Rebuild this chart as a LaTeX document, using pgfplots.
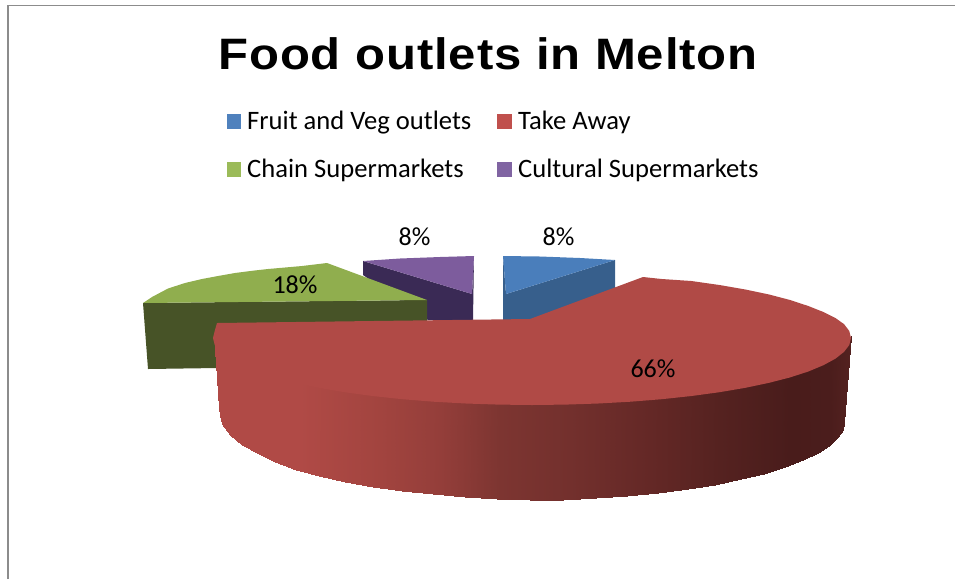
\documentclass[border=0pt]{standalone}
\usepackage{fontspec}
\setmainfont{Carlito}
\newfontfamily\titlefont[LetterSpace=2,FakeStretch=1.115]{Liberation Sans}
\usepackage{pgfplots}
\pgfplotsset{compat=1.18}
\definecolor{blueTop}{HTML}{4A7EBB}
\definecolor{blueSide}{HTML}{375F8C}
\definecolor{redTop}{HTML}{B04A46}
\definecolor{greenTop}{HTML}{90AE4E}
\definecolor{greenSide}{HTML}{475327}
\definecolor{purpleTop}{HTML}{7D5C9D}
\definecolor{purpleSide}{HTML}{3A2A55}
\definecolor{frameGrey}{HTML}{8C8C8C}
\definecolor{swBlue}{HTML}{4F81BD}
\definecolor{swRed}{HTML}{C0504D}
\definecolor{swGreen}{HTML}{9BBB59}
\definecolor{swPurple}{HTML}{8064A2}
\tikzset{
  lgd/.style={font=\fontsize{26.6}{30}\selectfont, text=black, inner sep=0pt},
  lbl/.style={font=\fontsize{26}{30}\selectfont, text=black, inner sep=0pt},
}
\begin{document}
\begin{tikzpicture}
\begin{axis}[
  scale only axis, width=955pt, height=579pt,
  xmin=0, xmax=955, ymin=0, ymax=579, y dir=reverse,
  hide axis, no markers,
  colormap={redside}{rgb255(0pt)=(176,74,70); rgb255(87pt)=(176,74,70); rgb255(167pt)=(162,68,63);
    rgb255(227pt)=(148,62,58); rgb255(287pt)=(125,53,49); rgb255(357pt)=(115,48,45); rgb255(437pt)=(100,40,38);
    rgb255(507pt)=(85,34,32); rgb255(577pt)=(73,28,27); rgb255(617pt)=(75,29,28); rgb255(638pt)=(84,34,32)},
  point meta min=213, point meta max=851,
]
% Reserve the full canvas
\path (axis cs:0,0) rectangle (axis cs:955,579);

% Chart frame
\addplot[frameGrey, line width=1.6pt] coordinates {(8,579) (8,5.5) (955,5.5)};

% Cultural Supermarkets slice
\addplot[fill=purpleSide, draw=none] coordinates {(363,261) (472,294) (474,256) (473,320) (428,320) (363,275)} --cycle;
\addplot[fill=purpleTop, draw=none] coordinates {(363,261) (400,258.5) (440,257) (474,256) (472,294)} --cycle;

% Fruit and Veg slice
\addplot[fill=blueSide, draw=none] coordinates {(503,256) (506,294) (615,260) (615,290) (530,320) (503,320)} --cycle;
\addplot[fill=blueTop, draw=none] coordinates {(503,256) (540,256.5) (580,258) (615,260) (506,294)} --cycle;

% Chain Supermarkets slice
\addplot[fill=greenSide, draw=none] coordinates {(143,303) (427,300) (427,365) (148,369)} --cycle;
\addplot[fill=greenTop, draw=none] coordinates {(143,303) (152,297) (168,288.5) (185,283) (202,279) (218,276) (235,273) (252,270.8) (268,269) (285,267.5) (302,266) (327,263) (427,300)} --cycle;

% Take Away slice: rim, its upper row tucked under the top face
\addplot[surf, shader=interp, point meta=x, mesh/rows=2, mesh/cols=31] table {
x y
851 336
849 341
844 348
833 355
821 361
806 368
788 373
767 379
743 384
717 388
690 392
660 395
629 398
597 400
564 401
532 401
499 401
467 400
435 398
404 395
374 392
346 388
320 384
296 379
275 373
257 368
242 361
230 355
222 348
216 341
214 334
843.5 423
842.5 430
838 436.6
829.6 444.7
817.8 452.5
802.8 460
784.8 467
764.1 473.5
740.8 479.4
715.2 484.7
687.5 489.3
658.1 493.1
627.3 496.1
595.5 498.2
562.9 499.6
530 500
497 499
464.5 497
432.7 494
401.9 491
372.5 487
344.8 482
319.2 476
295.9 469.5
275.2 461.5
257.2 453
242.2 445
230.4 435
222 424
219.5 415
219 408
};
% Take Away slice: top face
\addplot[fill=redTop, draw=none] coordinates {
(530,319) (643,277) (661.7,279) (691.5,281) (719.5,285) (745.4,289.5) (769.1,294.5) (790.1,300)
(808.3,306) (823.4,312) (835.4,318) (844,324.1) (849.3,331) (851,338)
(849.3,345) (844,351.9) (835.4,358.7) (823.4,365.2) (808.3,371.5) (790.1,377.4) (769.1,382.8)
(745.4,387.8) (719.5,392.2) (691.5,396) (661.7,399.2) (630.6,401.7) (598.3,403.5) (565.3,404.6)
(532,405) (498.7,404.6) (465.7,403.5) (433.4,401.7) (402.3,399.2) (372.5,396) (344.5,392.2)
(318.6,387.8) (294.9,382.8) (273.9,377.4) (255.7,371.5) (240.6,365.2) (228.6,358.7) (220,351.9)
(214.7,345) (213,338) (214.7,331) (217,323)} --cycle;

% Legend swatches
\addplot[fill=swBlue, draw=none] coordinates {(227,114) (241,114) (241,129) (227,129)} --cycle;
\addplot[fill=swRed, draw=none] coordinates {(497,114) (512,114) (512,129) (497,129)} --cycle;
\addplot[fill=swGreen, draw=none] coordinates {(227,162) (241,162) (241,177) (227,177)} --cycle;
\addplot[fill=swPurple, draw=none] coordinates {(497,162) (512,162) (512,177) (497,177)} --cycle;

% Title
\node[anchor=base, inner sep=0pt, font=\titlefont\bfseries\fontsize{44}{48}\selectfont] at (axis cs:488,69) {Food outlets in Melton};

% Legend text
\node[lgd, anchor=base west] at (axis cs:247,129.5) {Fruit and Veg outlets};
\node[lgd, anchor=base west] at (axis cs:518,129.5) {Take Away};
\node[lgd, anchor=base west] at (axis cs:247,177.5) {Chain Supermarkets};
\node[lgd, anchor=base west] at (axis cs:518,177.5) {Cultural Supermarkets};

% Data labels
\node[lbl, anchor=base] at (axis cs:414.5,245) {8\%};
\node[lbl, anchor=base] at (axis cs:558.5,245) {8\%};
\node[lbl, anchor=base] at (axis cs:295,293) {18\%};
\node[lbl, anchor=base] at (axis cs:653,377) {66\%};
\end{axis}
\end{tikzpicture}
\end{document}
